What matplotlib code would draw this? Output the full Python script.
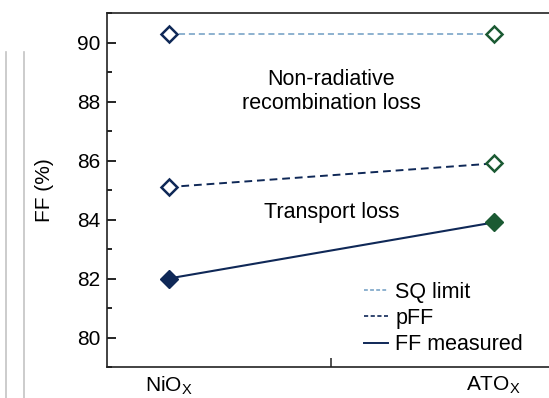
import matplotlib
matplotlib.use("Agg")
import matplotlib.pyplot as plt
from matplotlib.lines import Line2D

plt.rcParams['font.family'] = ['Liberation Sans', 'DejaVu Sans']

# data
samples = ['NiO$_\\mathregular{X}$', 'ATO$_\\mathregular{X}$']
sq_limit = [90.3, 90.3]
pff = [85.1, 85.9]
ff_measured = [82.0, 83.9]

navy = '#0f2857'
green = '#1b5a33'
light_blue = '#6f9dc2'
x = [0, 1]

fig = plt.figure(figsize=(5.49, 3.98), dpi=100)
ax = fig.add_axes([107 / 549, 1 - 367 / 398, 1 - 107 / 549, (367 - 13) / 398])

# lines
ax.plot(x, sq_limit, color=light_blue, lw=1.1, ls=(0, (4, 2.5)), zorder=1)
ax.plot(x, pff, color=navy, lw=1.4, ls=(0, (4, 2.5)), zorder=1)
ax.plot(x, ff_measured, color=navy, lw=1.5, zorder=1)

# markers: open for SQ/pFF, filled for measured
for i, c in enumerate([navy, green]):
    ax.plot(x[i], sq_limit[i], 'D', ms=8, mfc='white', mec=c, mew=1.8, zorder=3)
    ax.plot(x[i], pff[i], 'D', ms=8, mfc='white', mec=c, mew=1.8, zorder=3)
    ax.plot(x[i], ff_measured[i], 'D', ms=9, mfc=c, mec=c, mew=1, zorder=3)

ax.text(0.5, 88.35, 'Non-radiative\nrecombination loss', ha='center', va='center',
        fontsize=15.5, linespacing=1.2)
ax.text(0.5, 84.25, 'Transport loss', ha='center', va='center', fontsize=15.5)

ax.set_xlim(-0.19, 1.17)
ax.set_ylim(79, 91)
ax.set_yticks([80, 82, 84, 86, 88, 90])
ax.set_yticks(range(79, 92), minor=True)
ax.set_xticks(x)
ax.set_xticklabels(samples, fontsize=15)
ax.set_xticks([0.5], minor=True)
ax.tick_params(axis='x', which='major', length=0, pad=5)
ax.tick_params(axis='x', which='minor', direction='in', length=6.5, width=1.2, colors='#333333')
ax.tick_params(axis='y', which='major', direction='in', length=6.5, width=1.2, labelsize=15, pad=5)
ax.tick_params(axis='y', which='minor', direction='in', length=3.5, width=1.2)
ax.set_ylabel('FF (%)', fontsize=15, labelpad=16)

ax.spines['right'].set_visible(False)
for s in ['left', 'top', 'bottom']:
    ax.spines[s].set_linewidth(1.2)
    ax.spines[s].set_color('#222222')

handles = [Line2D([], [], color=light_blue, lw=1.1, ls=(0, (2.5, 1.5))),
           Line2D([], [], color=navy, lw=1.2, ls=(0, (2.5, 1.5))),
           Line2D([], [], color=navy, lw=1.4)]
ax.legend(handles, ['SQ limit', 'pFF', 'FF measured'], loc='lower right',
          bbox_to_anchor=(0.985, -0.022), frameon=False, fontsize=15.5,
          handlelength=1.1, handletextpad=0.35, labelspacing=0.25)

# faint vertical rules at the left edge of the source image
for px in [6, 24]:
    fig.add_artist(Line2D([px / 549, px / 549], [0, 1 - 52 / 398], color='#c4c4c4', lw=1.2))

fig.savefig('out.png', dpi=100)
